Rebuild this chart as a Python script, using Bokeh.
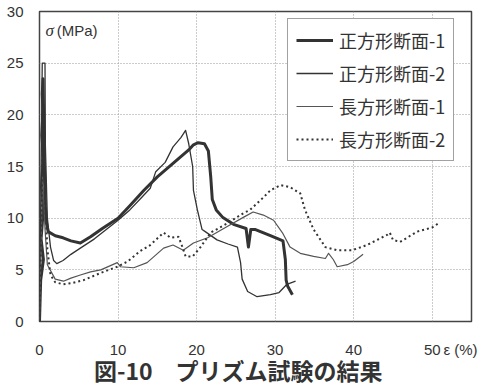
from bokeh.plotting import figure
from bokeh.models import Label, FixedTicker, Range1d
from bokeh.embed import file_html
from bokeh.resources import INLINE

# ---- data ----
x_ticks = [0, 10, 20, 30, 40, 50]
y_ticks = [0, 5, 10, 15, 20, 25, 30]
x_unit_pos = 53.6
x_unit_text = "ε (%)"
names = ["正方形断面-1", "正方形断面-2", "長方形断面-1", "長方形断面-2"]
title_text = "図-10　プリズム試験の結果"

sq1_x = [0, 0.15, 0.5, 0.2, 0.5, 0.25, 0.5, 0.3, 0.45, 0.35, 0.45, 0.6, 0.75, 0.9, 1.1,
         2, 3, 4, 5.2, 6.5, 8, 10, 11.5, 13.3, 15, 17, 19, 19.6, 20.2, 21, 21.5, 21.8,
         22, 22.5, 23.3, 24.7, 26.3, 26.6, 26.9, 27.5, 29.4, 31, 31.3, 31.4, 31.6, 32.2]
sq1_y = [0, 4, 6, 8, 11, 13, 16, 18, 20.5, 22, 23.5, 16, 11, 9.5, 8.7,
         8.3, 8.1, 7.8, 7.6, 8.2, 9.0, 10.0, 11.2, 12.7, 14.0, 15.3, 16.6, 17.1, 17.3, 17.2, 16.5, 14,
         11.8, 10.8, 10.1, 9.4, 9.0, 7.2, 8.9, 8.9, 8.3, 7.8, 6, 4, 3.4, 2.6]

sq2_x = [0, 0.35, 0.7, 0.75, 1.0, 1.4, 1.8, 2.2, 3, 4, 5.2, 7, 8.5, 10, 11.5, 13, 14.1,
         14.8, 16, 17, 18, 18.6, 19, 19.5, 19.6, 20.1, 20.7, 21.1, 22.6, 24, 25.2, 25.6,
         25.8, 26.5, 27.7, 29.4, 30.5, 31.5, 32.6]
sq2_y = [0, 25, 25, 17, 10, 7.2, 5.9, 5.6, 5.9, 6.5, 7.1, 8.0, 8.9, 9.8, 10.8, 12, 12.9,
         14.5, 15.4, 16.9, 17.8, 18.5, 17.2, 15, 12.7, 10.8, 8.9, 8.7, 7.9, 7.5, 7.2, 5.7,
         4.1, 2.9, 2.4, 2.6, 2.8, 3.6, 3.9]

re1_x = [0, 0.4, 0.7, 1.0, 2, 3.05, 4, 5.2, 6.5, 7.8, 9.9, 10.3, 12, 13.7, 15.8, 17, 18.3,
         19.6, 21.4, 23.9, 26, 27.2, 28.5, 29.8, 31, 31.9, 33.2, 34.9, 36.4, 36.8, 37.4,
         37.9, 39.2, 40, 41.2]
re1_y = [0, 14, 9, 5.5, 4.1, 3.9, 4.2, 4.5, 4.8, 5.0, 5.7, 5.3, 5.2, 5.7, 7.1, 7.4, 6.9,
         7.6, 8.1, 9.2, 10.1, 10.6, 10.3, 9.8, 8.5, 7.2, 6.6, 6.3, 6.1, 6.6, 6.0,
         5.3, 5.5, 5.8, 6.5]

re2_x = [0, 0.3, 0.5, 0.7, 1.0, 1.4, 2, 3, 4, 5.6, 7.8, 9.9, 11.2, 12.8, 14.1, 15.8, 16.7,
         17.7, 18.2, 18.6, 19.5, 20.5, 21.8, 23.9, 26, 26.8, 28.5, 29.4, 30.7, 31.9, 33.2,
         33.8, 34.9, 36.4, 37.9, 39.8, 41.7, 44.3, 44.6, 45, 45.9, 48.1, 50, 50.8]
re2_y = [0, 12, 21, 12, 7, 4.5, 3.8, 3.6, 3.7, 4.0, 4.7, 5.3, 5.8, 6.8, 7.4, 8.6, 8.1,
         8.2, 7.2, 6.3, 6.3, 7.2, 8.6, 9.5, 10.5, 10.8, 12.0, 12.7, 13.2, 13.0, 12.4,
         10.8, 8.9, 7.2, 6.9, 6.9, 7.4, 8.4, 8.6, 7.9, 7.7, 8.7, 9.1, 9.5]

# ---- figure ----
p = figure(width=481, height=389, output_backend="svg", toolbar_location=None,
           x_range=Range1d(0, 55), y_range=Range1d(0, 30),
           min_border_left=39, min_border_right=10, min_border_top=11, min_border_bottom=68)
p.background_fill_color = "white"
p.border_fill_color = "white"
p.outline_line_color = "#444"
p.outline_line_width = 1.5

p.xaxis.ticker = FixedTicker(ticks=x_ticks + [x_unit_pos])
p.xaxis.major_label_overrides = {x_unit_pos: x_unit_text}
p.yaxis.ticker = FixedTicker(ticks=y_ticks)
p.xgrid.ticker = FixedTicker(ticks=x_ticks)
p.ygrid.ticker = FixedTicker(ticks=y_ticks)
for g in (p.xgrid, p.ygrid):
    g.grid_line_color = "#999"
    g.grid_line_dash = "1 2"
    g.grid_line_width = 1

for ax in (p.xaxis, p.yaxis):
    ax.axis_line_color = None
    ax.major_tick_line_color = None
    ax.minor_tick_line_color = None
    ax.major_tick_out = 0
    ax.major_tick_in = 0
    ax.minor_tick_out = 0
    ax.minor_tick_in = 0
    ax.major_label_text_font = "Liberation Sans"
    ax.major_label_text_font_size = "15px"
    ax.major_label_text_color = "#333"
p.yaxis.major_label_standoff = 16
p.xaxis.major_label_standoff = 19

# title placed as the x-axis label (trailing wide spaces shift it slightly left)
p.xaxis.axis_label = title_text + "　\u2002"
p.xaxis.axis_label_standoff = -8
p.xaxis.axis_label_text_font = "Noto Sans CJK JP"
p.xaxis.axis_label_text_font_style = "bold"
p.xaxis.axis_label_text_font_size = "23px"
p.xaxis.axis_label_text_color = "#333"

col = "#333"
p.line(sq1_x, sq1_y, line_color=col, line_width=3, line_join="round", legend_label=names[0])
p.line(sq2_x, sq2_y, line_color=col, line_width=1.3, line_join="round", legend_label=names[1])
p.line(re1_x, re1_y, line_color="#555", line_width=1.2, line_join="round", legend_label=names[2])
p.line(re2_x, re2_y, line_color=col, line_width=2, line_dash="2 3", legend_label=names[3])

lg = p.legend[0]
lg.location = (248, 160)
lg.margin = 0
lg.padding = 8
lg.spacing = 7
lg.glyph_width = 37
lg.glyph_height = 26
lg.label_height = 26
lg.label_standoff = 6
lg.label_text_font = "Noto Sans CJK JP"
lg.label_text_font_size = "18px"
lg.label_text_color = "#333"
lg.border_line_color = "#444"
lg.border_line_width = 1
lg.background_fill_color = "white"
lg.background_fill_alpha = 1

# ---- texts ----
p.add_layout(Label(x=0.76, y=28.2, text="σ", text_font_style="italic", text_font="Liberation Serif",
                   text_font_size="17px", text_color="#333", text_baseline="middle", text_align="left"))
p.add_layout(Label(x=2.2, y=28.2, text="(MPa)", text_font="Liberation Sans",
                   text_font_size="15px", text_color="#333", text_baseline="middle", text_align="left"))

open("out.html", "w").write(file_html(p, INLINE))
